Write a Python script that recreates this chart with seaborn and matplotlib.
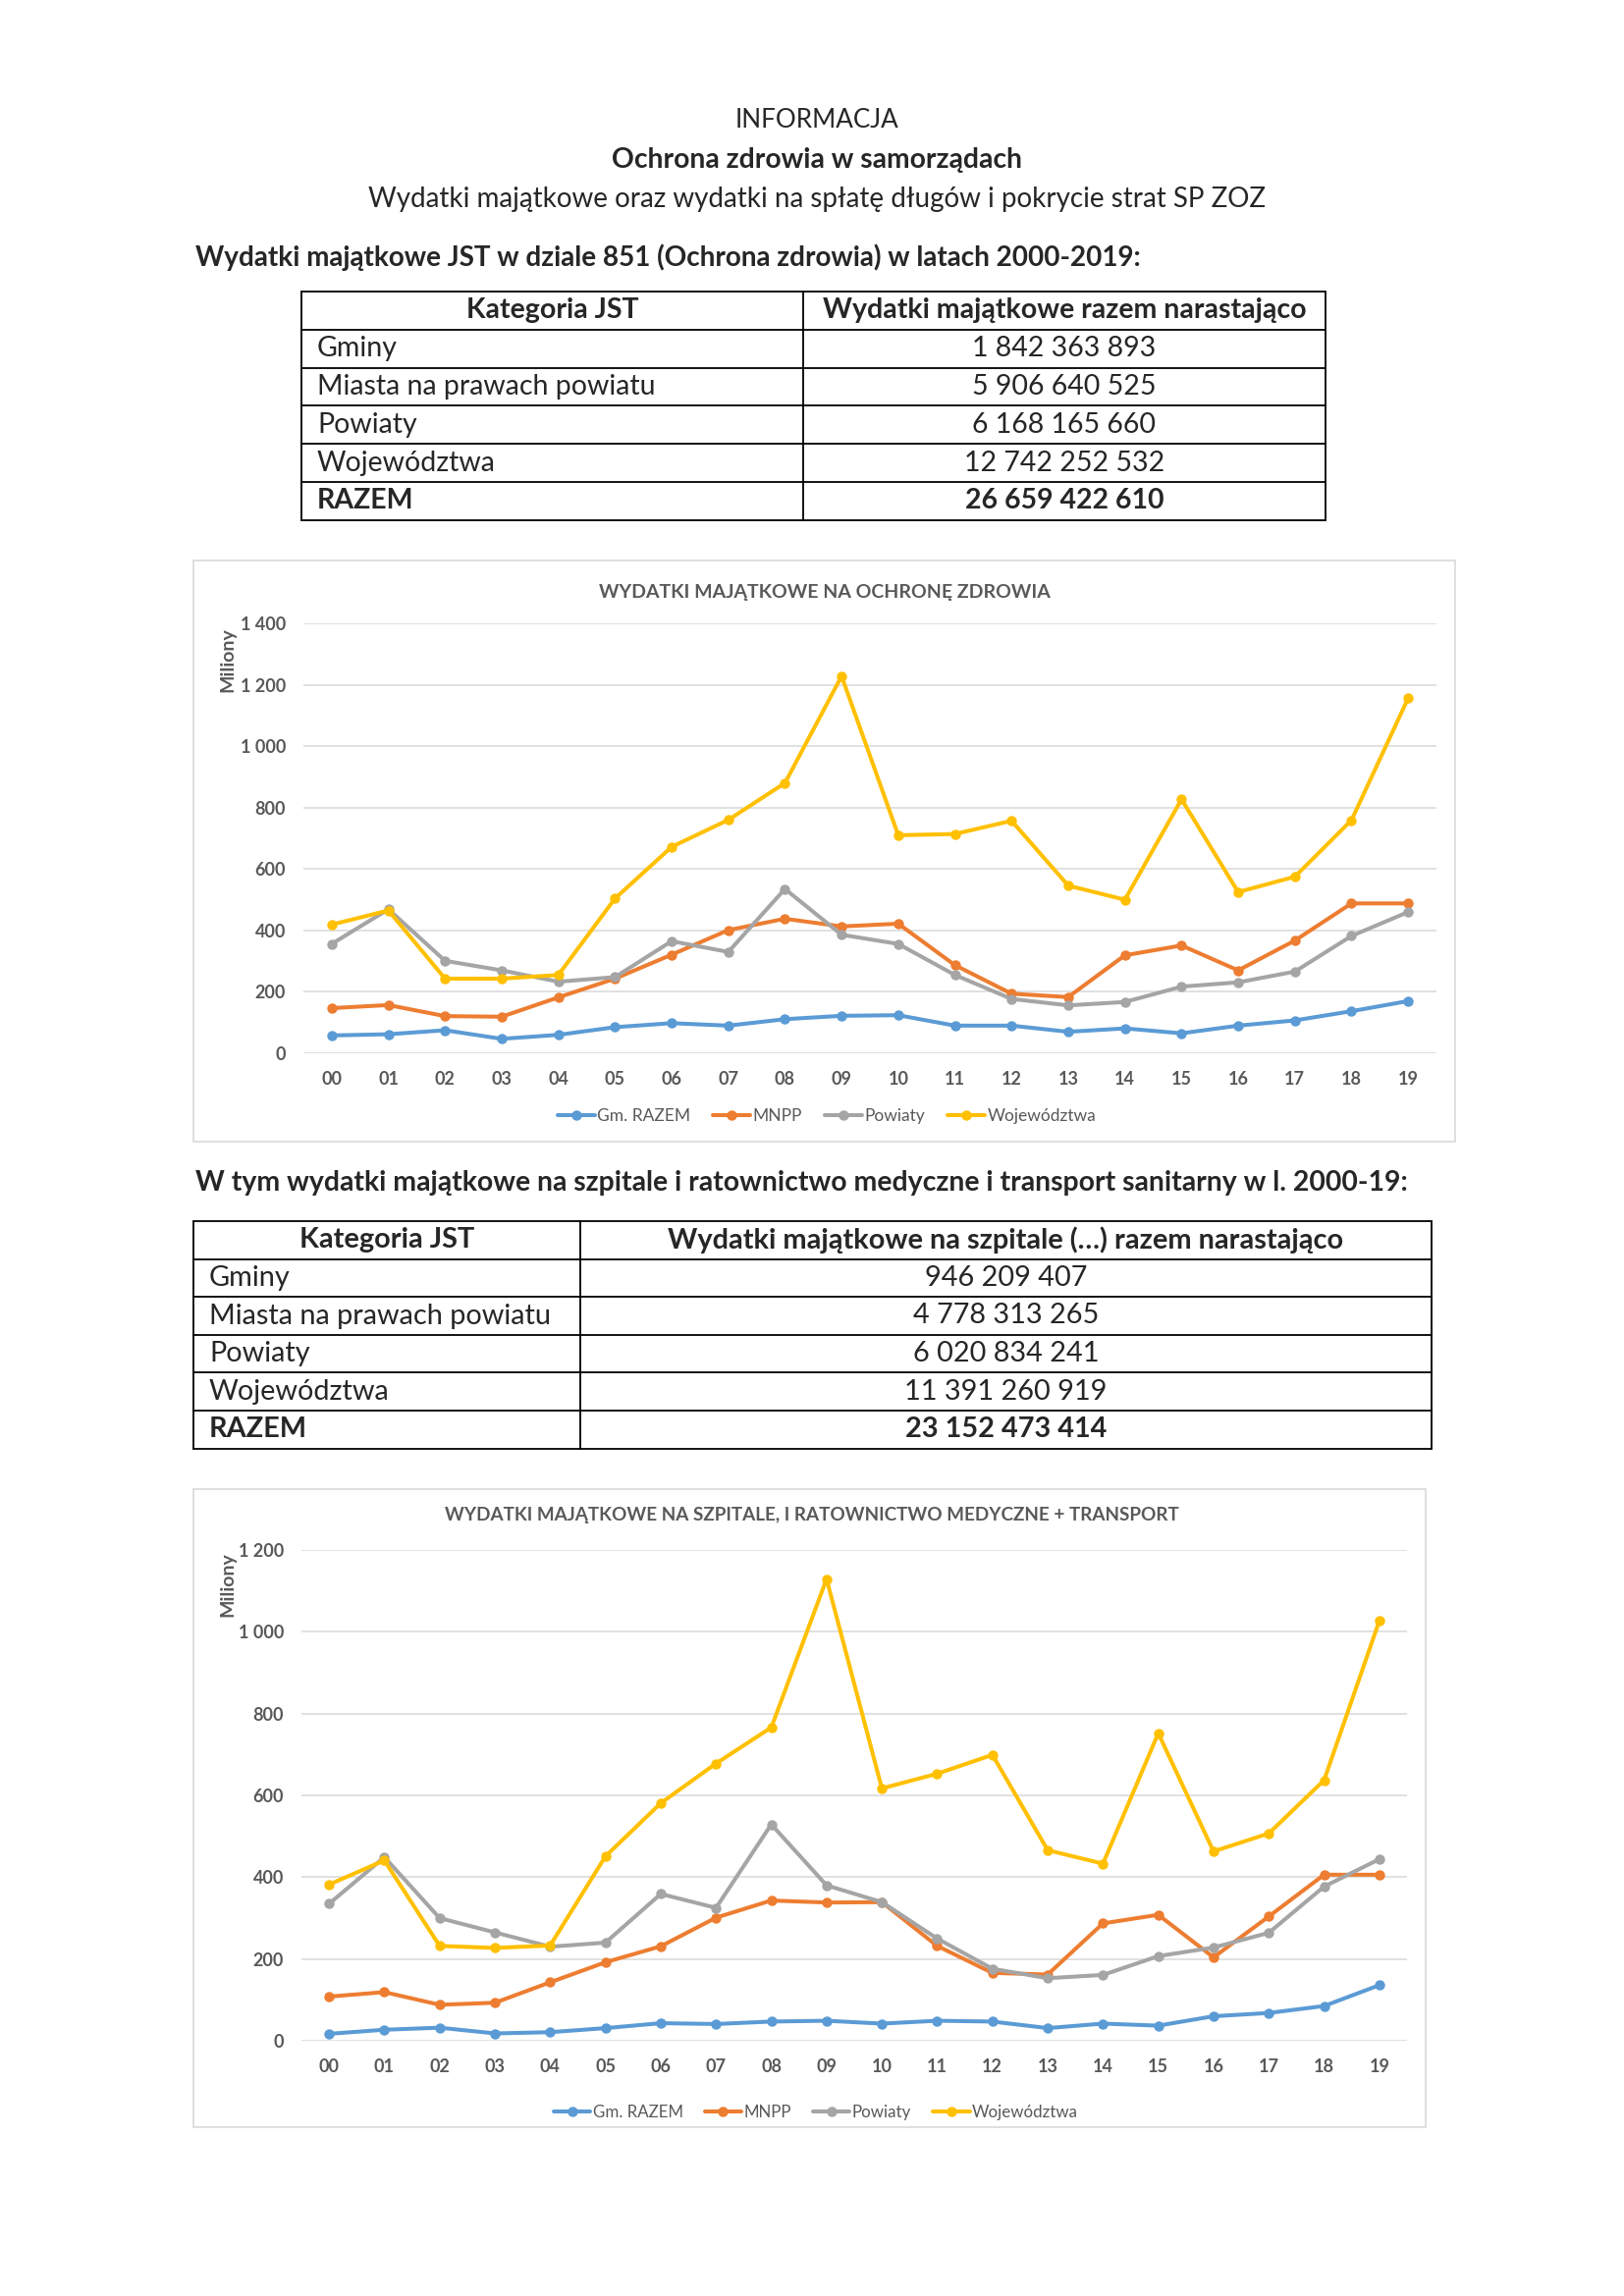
import numpy as np
import pandas as pd
import matplotlib
matplotlib.use("Agg")
import matplotlib.pyplot as plt
import seaborn as sns
from matplotlib.ticker import FuncFormatter, MultipleLocator
from matplotlib.patches import Rectangle

# --- dane ---
lata = list(range(2000, 2020))
etykiety_lat = [f"{r % 100:02d}" for r in lata]
serie = ["Gm. RAZEM", "MNPP", "Powiaty", "Województwa"]
kolory = ["#5B9BD5", "#ED7D31", "#A5A5A5", "#FFC000"]

# wykres 1 - wydatki majatkowe na ochrone zdrowia (mln zl)
gm_1 = [58, 62, 75, 47, 60, 85, 98, 90, 111, 122, 124, 90, 90, 70, 81, 65, 90, 107, 137, 170]
mnpp_1 = [147, 157, 121, 119, 182, 243, 321, 401, 438, 413, 422, 287, 194, 183, 319, 351, 270, 367, 488, 488]
pow_1 = [356, 469, 301, 270, 233, 248, 365, 330, 535, 386, 356, 255, 177, 156, 167, 217, 231, 266, 382, 460]
woj_1 = [419, 465, 243, 243, 255, 504, 672, 760, 880, 1228, 710, 714, 757, 546, 500, 827, 525, 575, 759, 1156]

# wykres 2 - szpitale, ratownictwo medyczne + transport (mln zl)
gm_2 = [17, 27, 32, 18, 21, 31, 43, 41, 47, 49, 42, 49, 47, 31, 42, 37, 60, 68, 85, 136]
mnpp_2 = [108, 119, 88, 93, 143, 192, 231, 301, 343, 338, 339, 232, 166, 162, 287, 308, 204, 304, 406, 406]
pow_2 = [335, 449, 300, 265, 230, 240, 359, 325, 529, 380, 339, 250, 176, 153, 161, 207, 228, 264, 377, 444]
woj_2 = [382, 441, 232, 227, 233, 451, 581, 678, 766, 1129, 617, 653, 699, 466, 433, 752, 463, 507, 637, 1027]

kategorie = ["Gminy", "Miasta na prawach powiatu", "Powiaty", "Województwa", "RAZEM"]
wartosci_1 = ["1 842 363 893", "5 906 640 525", "6 168 165 660", "12 742 252 532", "26 659 422 610"]
wartosci_2 = ["946 209 407", "4 778 313 265", "6 020 834 241", "11 391 260 919", "23 152 473 414"]

W, H = 1654, 2339
SZARY = "#595959"

sns.set_theme(style="white")
plt.rcParams['font.family'] = ['Lato', 'DejaVu Sans']

fig = plt.figure(figsize=(W / 100, H / 100), dpi=100)
fig.patch.set_facecolor("white")

# warstwa tla w pikselach strony
bg = fig.add_axes([0, 0, 1, 1], zorder=0)
bg.set_xlim(0, W)
bg.set_ylim(H, 0)
bg.axis("off")

# naglowek dokumentu
bg.text(832, 123, "INFORMACJA", ha="center", va="center", fontsize=18.7)
bg.text(832, 163, "Ochrona zdrowia w samorządach", ha="center", va="center", fontsize=20.3, fontweight="bold")
bg.text(832, 203, "Wydatki majątkowe oraz wydatki na spłatę długów i pokrycie strat SP ZOZ",
        ha="center", va="center", fontsize=20)


def tabela(top, left, mid, right, rh, kolumna2, wartosci, size):
    n = len(kategorie) + 1
    bottom = top + n * rh
    for i in range(n + 1):
        bg.plot([left, right], [top + i * rh] * 2, color="black", lw=1.3)
    for x in (left, mid, right):
        bg.plot([x, x], [top, bottom], color="black", lw=1.3)
    yc = top + rh / 2
    bg.text((left + mid) / 2, yc, "Kategoria JST", ha="center", va="center", fontsize=size, fontweight="bold")
    bg.text((mid + right) / 2, yc, kolumna2, ha="center", va="center", fontsize=size, fontweight="bold")
    for i, (k, v) in enumerate(zip(kategorie, wartosci)):
        yc = top + (i + 1.5) * rh
        w = "bold" if k == "RAZEM" else "normal"
        bg.text(left + 16, yc, k, ha="left", va="center", fontsize=size, fontweight=w)
        bg.text((mid + right) / 2, yc, v, ha="center", va="center", fontsize=size, fontweight=w)


def px_rect(l, t, r, b):
    return [l / W, 1 - b / H, (r - l) / W, (b - t) / H]


def wykres(rect, box, dane, ymax, tytul, tytul_xy, tytul_size, legenda_xy, legenda_size, ylabel_y):
    l, t, r, b = box
    bg.add_patch(Rectangle((l, t), r - l, b - t, fill=False, ec="#D9D9D9", lw=1.2))
    bg.text(tytul_xy[0], tytul_xy[1], tytul, ha="center", va="center",
            fontsize=tytul_size, fontweight="bold", color=SZARY)
    bg.text(232, ylabel_y, "Miliony", rotation=90, ha="center", va="center",
            fontsize=14, fontweight="bold", color=SZARY)

    ax = fig.add_axes(px_rect(*rect), zorder=1)
    ax.patch.set_alpha(0)
    df = pd.DataFrame({
        "rok": lata * len(serie),
        "seria": np.repeat(serie, len(lata)),
        "wartosc": np.concatenate(dane),
    })
    sns.lineplot(data=df, x="rok", y="wartosc", hue="seria", hue_order=serie, palette=kolory,
                 marker="o", markersize=7.5, markeredgewidth=0, linewidth=2.9,
                 errorbar=None, legend=False, ax=ax)
    ax.set_xlim(1999.5, 2019.5)
    ax.set_ylim(0, ymax)
    ax.set_xticks(lata)
    ax.set_xticklabels(etykiety_lat)
    ax.yaxis.set_major_locator(MultipleLocator(200))
    ax.yaxis.set_major_formatter(FuncFormatter(lambda v, p: f"{int(v):,}".replace(",", " ")))
    ax.grid(axis="y", color="#D9D9D9", lw=1.1)
    ax.grid(axis="x", visible=False)
    for s in ax.spines.values():
        s.set_visible(False)
    ax.tick_params(length=0, pad=13, labelcolor=SZARY, labelsize=13)
    for lab in ax.get_xticklabels() + ax.get_yticklabels():
        lab.set_fontweight("bold")
    ax.set_xlabel("")
    ax.set_ylabel("")

    lg = ax.legend(ax.lines[:len(serie)], serie, loc="center", ncol=4, frameon=False,
                   bbox_to_anchor=(legenda_xy[0] / W, 1 - legenda_xy[1] / H),
                   bbox_transform=fig.transFigure, fontsize=legenda_size, handlelength=2.2,
                   handletextpad=0.15, columnspacing=1.3)
    for tx in lg.get_texts():
        tx.set_color(SZARY)
    return ax


# sekcja 1
bg.text(199, 262, "Wydatki majątkowe JST w dziale 851 (Ochrona zdrowia) w latach 2000-2019:",
        ha="left", va="center", fontsize=20.1, fontweight="bold")
tabela(297, 307, 818, 1350, 38.8, "Wydatki majątkowe razem narastająco", wartosci_1, 20.5)
wykres((309, 635, 1463, 1073), (197, 571, 1482, 1163),
       [gm_1, mnpp_1, pow_1, woj_1], 1400,
       "WYDATKI MAJĄTKOWE NA OCHRONĘ ZDROWIA", (840, 603), 14, (842, 1137), 12.5, 672)

# sekcja 2
bg.text(199, 1205, "W tym wydatki majątkowe na szpitale i ratownictwo medyczne i transport sanitarny w l. 2000-19:",
        ha="left", va="center", fontsize=20.4, fontweight="bold")
tabela(1244, 197, 591, 1458, 38.6, "Wydatki majątkowe na szpitale (…) razem narastająco", wartosci_2, 20.8)
wykres((307, 1579, 1433, 2079), (197, 1517, 1452, 2167),
       [gm_2, mnpp_2, pow_2, woj_2], 1200,
       "WYDATKI MAJĄTKOWE NA SZPITALE, I RATOWNICTWO MEDYCZNE + TRANSPORT", (827, 1543), 13.6,
       (831, 2152), 12.2, 1614)

fig.savefig("out.png", dpi=100, facecolor="white")
